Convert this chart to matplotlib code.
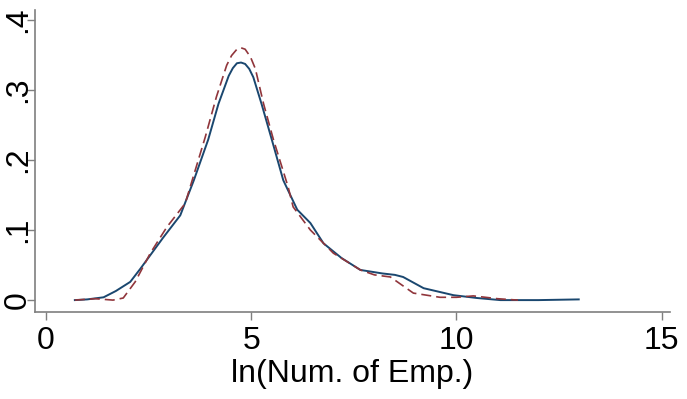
import matplotlib
matplotlib.use("Agg")
import matplotlib.pyplot as plt

# === DATA ===
x_solid = [0.7, 1.0, 1.4, 1.7, 2.05, 2.3, 2.5, 2.85, 3.27, 3.6, 3.95, 4.2, 4.45, 4.55,
           4.65, 4.75, 4.85, 4.95, 5.05, 5.25, 5.5, 5.78, 6.12, 6.44, 6.76, 7.2, 7.66,
           8.2, 8.5, 8.7, 9.2, 9.93, 10.5, 11.07, 12.0, 12.98]
y_solid = [0.000, 0.001, 0.004, 0.013, 0.026, 0.045, 0.061, 0.089, 0.121, 0.171, 0.229,
           0.280, 0.320, 0.331, 0.338, 0.339, 0.337, 0.330, 0.318, 0.280, 0.229, 0.171,
           0.129, 0.110, 0.081, 0.060, 0.043, 0.038, 0.036, 0.033, 0.017, 0.007, 0.003,
           0.000, 0.000, 0.001]

x_dash = [0.7, 1.2, 1.63, 1.88, 2.17, 2.54, 2.94, 3.39, 3.56, 3.88, 4.15, 4.4, 4.52,
          4.65, 4.75, 4.85, 4.98, 5.1, 5.3, 5.54, 5.9, 6.02, 6.44, 7.0, 7.66, 8.0, 8.39,
          8.95, 9.6, 10.0, 10.41, 11.0, 11.5]
y_dash = [0.000, 0.002, 0.000, 0.003, 0.026, 0.067, 0.104, 0.138, 0.171, 0.233, 0.290,
          0.335, 0.349, 0.358, 0.360, 0.358, 0.347, 0.330, 0.280, 0.229, 0.161, 0.133,
          0.100, 0.067, 0.043, 0.036, 0.033, 0.010, 0.004, 0.004, 0.006, 0.002, 0.000]

x_ticks = [0, 5, 10, 15]
y_ticks = [0, 0.1, 0.2, 0.3, 0.4]
y_tick_labels = ["0", ".1", ".2", ".3", ".4"]
x_label = "ln(Num. of Emp.)"

# === PLOT ===
plt.rcParams["font.family"] = ["Liberation Sans", "DejaVu Sans"]
fig = plt.figure(figsize=(6.87, 3.99), dpi=100)
ax = fig.add_axes([0.051, 0.218, 0.924, 0.757])

ax.plot(x_solid, y_solid, color="#1a476f", lw=1.4, solid_joinstyle="round")
ax.plot(x_dash, y_dash, color="#90353b", lw=1.2, ls=(0, (6, 3)))

ax.set_xlim(-0.27, 15.2)
ax.set_ylim(-0.017, 0.414)
ax.set_xticks(x_ticks)
ax.set_yticks(y_ticks)
ax.set_yticklabels(y_tick_labels, rotation=90, va="center")
ax.set_xlabel(x_label, fontsize=23, labelpad=2)

for side in ["top", "right"]:
    ax.spines[side].set_visible(False)
for side in ["left", "bottom"]:
    ax.spines[side].set_color("#7f7f7f")
    ax.spines[side].set_linewidth(1.2)
ax.tick_params(axis="both", colors="#7f7f7f", length=6, width=1.0,
               labelsize=23, labelcolor="black")
ax.tick_params(axis="x", pad=4.3)
ax.tick_params(axis="y", pad=-4.5)

fig.savefig("out.png", dpi=100, facecolor="white")
